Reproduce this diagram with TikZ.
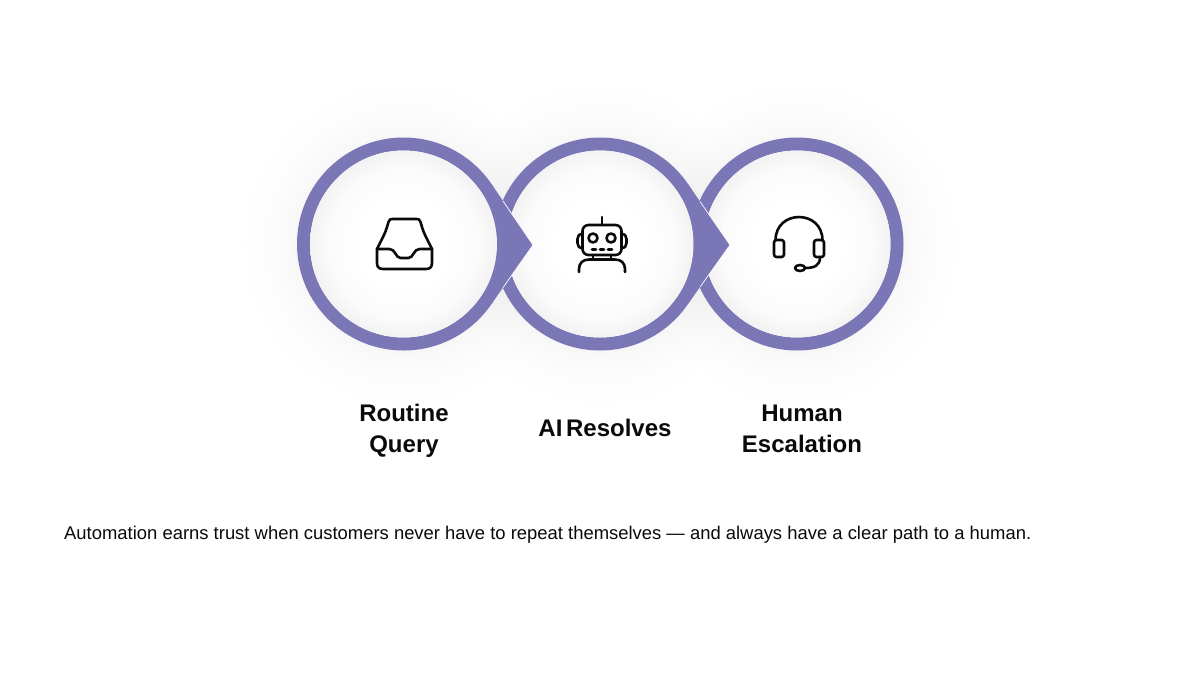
\documentclass[tikz,border=0pt]{standalone}
\usepackage{fontspec}
\setmainfont{Liberation Sans}
\newfontfamily\labelfont[WordSpace=0.55]{Liberation Sans}
\usetikzlibrary{calc}
\definecolor{ringpurple}{HTML}{7B76B6}
\definecolor{inkblack}{HTML}{0A0A0A}
\pgfdeclareradialshading{haloshade}{\pgfpointorigin}{
  color(0bp)=(black!3.5);
  color(16bp)=(black!3.5);
  color(17bp)=(black!2.5);
  color(21bp)=(black!.8);
  color(25bp)=(white);
  color(50bp)=(white)}
\pgfdeclareradialshading{discshade}{\pgfpointorigin}{
  color(0bp)=(white);
  color(12bp)=(white);
  color(20bp)=(black!1.5);
  color(25bp)=(black!5);
  color(50bp)=(black!5)}
\tikzstyle{halo} = [circle, minimum size=330pt, inner sep=0pt, shading=haloshade, blend mode=multiply]
\tikzstyle{ring} = [circle, draw=ringpurple, line width=13pt, minimum size=200pt, inner sep=0pt]
\tikzstyle{disc} = [circle, minimum size=187pt, inner sep=0pt, shading=discshade]
\tikzstyle{stepname} = [font=\labelfont\fontsize{24}{31}\selectfont\bfseries, align=center, text=inkblack]
\tikzstyle{caption} = [font=\fontsize{18.43}{22}\selectfont, anchor=west, inner sep=0pt, text=inkblack]
\tikzstyle{icon} = [draw=inkblack, line width=2.6pt, line cap=round, line join=round]

\begin{document}
\begin{tikzpicture}[x=1pt,y=-1pt]
                \useasboundingbox (0,0) rectangle (1200,675);
                \fill[white] (0,0) rectangle (1200,675);

                \node [halo] (haloa) at (403.5,244) {};
                \node [halo] (halob) at (600,244) {};
                \node [halo] (haloc) at (797,244) {};

                % rings, the last one first
                \node [ring] (human) at (797,244) {};
                \node [disc] (humandisc) at (human) {};

                \node [ring] (resolve) at (600,244) {};
                \fill [ringpurple] ($(resolve)+(87.5,-60.6)$) -- ($(resolve)+(130,1)$) -- ($(resolve)+(87.5,60.6)$) -- cycle;
                \draw [white, line width=0.7pt] ($(resolve)+(100,-42.5)$) -- ($(resolve)+(130,1)$) -- ($(resolve)+(100,43.1)$);
                \node [disc] (resolvedisc) at (resolve) {};

                \node [ring] (query) at (403.5,244) {};
                \fill [ringpurple] ($(query)+(87.5,-60.6)$) -- ($(query)+(129.5,1)$) -- ($(query)+(87.5,60.6)$) -- cycle;
                \draw [white, line width=0.7pt] ($(query)+(99.5,-43)$) -- ($(query)+(129.5,1)$) -- ($(query)+(99.5,43.6)$);
                \node [disc] (querydisc) at (query) {};

                % inbox
                \begin{scope}[shift={($(query)+(1,0)$)}]
                    \draw [icon] (-27.5,5) -- (-21,-8) .. controls (-18,-14) and (-17,-19) .. (-16,-22) .. controls (-15,-25) and (-14,-25) .. (-12,-25) -- (12,-25) .. controls (14,-25) and (15,-25) .. (16,-22) .. controls (17,-19) and (18,-14) .. (21,-8) -- (27.5,5);
                    \draw [icon] (-27.5,5) -- (-27.5,19) .. controls (-27.5,23) and (-25.5,25) .. (-21.5,25) -- (21.5,25) .. controls (25.5,25) and (27.5,23) .. (27.5,19) -- (27.5,5);
                    \draw [icon] (-27.5,5) -- (-15,5) .. controls (-9,5) and (-9,14) .. (-4,14) -- (4,14) .. controls (9,14) and (9,5) .. (15,5) -- (27.5,5);
                \end{scope}

                % robot
                \begin{scope}[shift={($(resolve)+(2,0)$)}]
                    \draw [icon, rounded corners=6pt] (-19.5,-19) rectangle (19.5,11);
                    \draw [icon] (0,-19) -- (0,-27);
                    \draw [icon] (-9,-6) circle (4.5);
                    \draw [icon] (9,-6) circle (4.5);
                    \draw [icon] (-10,5.3) -- (-6,5.3);
                    \draw [icon] (-2,5.3) -- (2,5.3);
                    \draw [icon] (6,5.3) -- (10,5.3);
                    \draw [icon] (-19.5,-10) .. controls (-23,-10) and (-24.5,-8) .. (-24.5,-5) -- (-24.5,-1) .. controls (-24.5,2) and (-23,4) .. (-19.5,4);
                    \draw [icon] (19.5,-10) .. controls (23,-10) and (24.5,-8) .. (24.5,-5) -- (24.5,-1) .. controls (24.5,2) and (23,4) .. (19.5,4);
                    \draw [icon] (-9,11) -- (-9,15.5);
                    \draw [icon] (9,11) -- (9,15.5);
                    \draw [icon] (-23,28) -- (-23,25) .. controls (-23,19) and (-19,15.5) .. (-13,15.5) -- (13,15.5) .. controls (19,15.5) and (23,19) .. (23,25) -- (23,28);
                \end{scope}

                % headset
                \begin{scope}[shift={($(human)+(2,0)$)}]
                    \draw [icon] (-23.5,-3.5) .. controls (-23.5,-34.8) and (23.5,-34.8) .. (23.5,-3.5);
                    \draw [icon, rounded corners=2.5pt] (-25,-4) rectangle (-15,13);
                    \draw [icon, rounded corners=2.5pt] (15,-4) rectangle (25,13);
                    \draw [icon] (21,13) .. controls (21,22) and (15,24) .. (6,24);
                    \draw [icon] (1,24) ellipse (5 and 3);
                \end{scope}

                \node [stepname] (querylabel) at (404,431) {Routine\\Query};
                \node [stepname] (resolvelabel) at (605,428) {AI Resolves};
                \node [stepname] (humanlabel) at (802,428.5) {Human\\Escalation};

                \node [caption] (note) at (64,535) {Automation earns trust when customers never have to repeat themselves — and always have a clear path to a human.};
            \end{tikzpicture}
\end{document}
